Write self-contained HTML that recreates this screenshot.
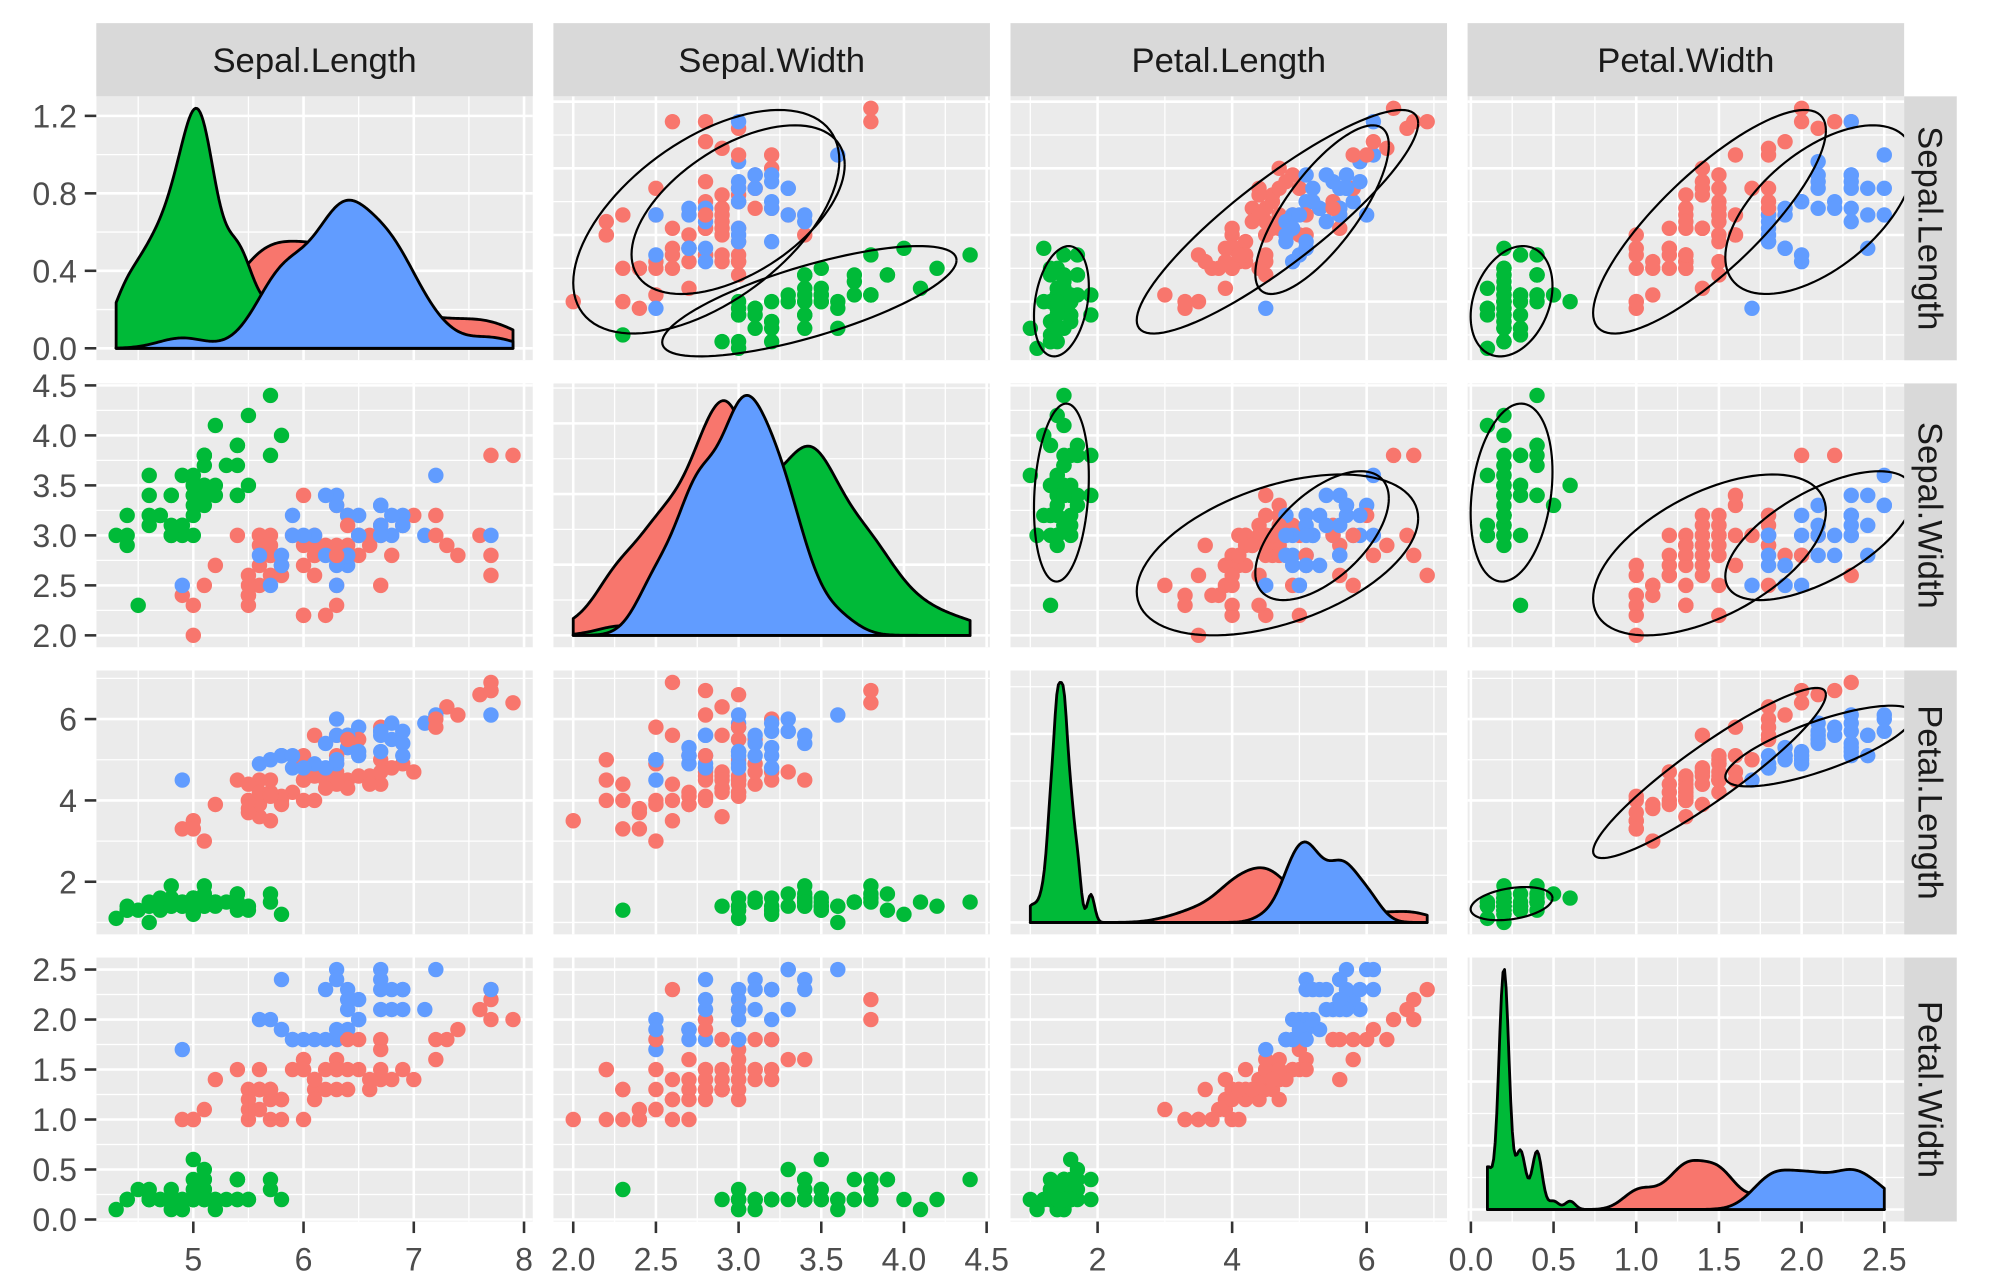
<!DOCTYPE html>
<html><head><meta charset="utf-8"><style>
html,body{margin:0;padding:0;background:#fff;}
svg{display:block;font-family:"Liberation Sans",Arial,sans-serif;}
</style></head><body>
<svg id="chart" width="2003" height="1287" viewBox="0 0 1560 1002" preserveAspectRatio="none" xmlns="http://www.w3.org/2000/svg"></svg>
<script>
const varNames=["Sepal.Length","Sepal.Width","Petal.Length","Petal.Width"];
const sepalLength=[5.1,4.9,4.7,4.6,5.0,5.4,4.6,5.0,4.4,4.9,5.4,4.8,4.8,4.3,5.8,5.7,5.4,5.1,5.7,5.1,5.4,5.1,4.6,5.1,4.8,5.0,5.0,5.2,5.2,4.7,4.8,5.4,5.2,5.5,4.9,5.0,5.5,4.9,4.4,5.1,5.0,4.5,4.4,5.0,5.1,4.8,5.1,4.6,5.3,5.0,
7.0,6.4,6.9,5.5,6.5,5.7,6.3,4.9,6.6,5.2,5.0,5.9,6.0,6.1,5.6,6.7,5.6,5.8,6.2,5.6,5.9,6.1,6.3,6.1,6.4,6.6,6.8,6.7,6.0,5.7,5.5,5.5,5.8,6.0,5.4,6.0,6.7,6.3,5.6,5.5,5.5,6.1,5.8,5.0,5.6,5.7,5.7,6.2,5.1,5.7,
6.3,5.8,7.1,6.3,6.5,7.6,4.9,7.3,6.7,7.2,6.5,6.4,6.8,5.7,5.8,6.4,6.5,7.7,7.7,6.0,6.9,5.6,7.7,6.3,6.7,7.2,6.2,6.1,6.4,7.2,7.4,7.9,6.4,6.3,6.1,7.7,6.3,6.4,6.0,6.9,6.7,6.9,5.8,6.8,6.7,6.7,6.3,6.5,6.2,5.9];
const sepalWidth=[3.5,3.0,3.2,3.1,3.6,3.9,3.4,3.4,2.9,3.1,3.7,3.4,3.0,3.0,4.0,4.4,3.9,3.5,3.8,3.8,3.4,3.7,3.6,3.3,3.4,3.0,3.4,3.5,3.4,3.2,3.1,3.4,4.1,4.2,3.1,3.2,3.5,3.6,3.0,3.4,3.5,2.3,3.2,3.5,3.8,3.0,3.8,3.2,3.7,3.3,
3.2,3.2,3.1,2.3,2.8,2.8,3.3,2.4,2.9,2.7,2.0,3.0,2.2,2.9,2.9,3.1,3.0,2.7,2.2,2.5,3.2,2.8,2.5,2.8,2.9,3.0,2.8,3.0,2.9,2.6,2.4,2.4,2.7,2.7,3.0,3.4,3.1,2.3,3.0,2.5,2.6,3.0,2.6,2.3,2.7,3.0,2.9,2.9,2.5,2.8,
3.3,2.7,3.0,2.9,3.0,3.0,2.5,2.9,2.5,3.6,3.2,2.7,3.0,2.5,2.8,3.2,3.0,3.8,2.6,2.2,3.2,2.8,2.8,2.7,3.3,3.2,2.8,3.0,2.8,3.0,2.8,3.8,2.8,2.8,2.6,3.0,3.4,3.1,3.0,3.1,3.1,3.1,2.7,3.2,3.3,3.0,2.5,3.0,3.4,3.0];
const petalLength=[1.4,1.4,1.3,1.5,1.4,1.7,1.4,1.5,1.4,1.5,1.5,1.6,1.4,1.1,1.2,1.5,1.3,1.4,1.7,1.5,1.7,1.5,1.0,1.7,1.9,1.6,1.6,1.5,1.4,1.6,1.6,1.5,1.5,1.4,1.5,1.2,1.3,1.4,1.3,1.5,1.3,1.3,1.3,1.6,1.9,1.4,1.6,1.4,1.5,1.4,
4.7,4.5,4.9,4.0,4.6,4.5,4.7,3.3,4.6,3.9,3.5,4.2,4.0,4.7,3.6,4.4,4.5,4.1,4.5,3.9,4.8,4.0,4.9,4.7,4.3,4.4,4.8,5.0,4.5,3.5,3.8,3.7,3.9,5.1,4.5,4.5,4.7,4.4,4.1,4.0,4.4,4.6,4.0,3.3,4.2,4.2,4.2,4.3,3.0,4.1,
6.0,5.1,5.9,5.6,5.8,6.6,4.5,6.3,5.8,6.1,5.1,5.3,5.5,5.0,5.1,5.3,5.5,6.7,6.9,5.0,5.7,4.9,6.7,4.9,5.7,6.0,4.8,4.9,5.6,5.8,6.1,6.4,5.6,5.1,5.6,6.1,5.6,5.5,4.8,5.4,5.6,5.1,5.1,5.9,5.7,5.2,5.0,5.2,5.4,5.1];
const petalWidth=[0.2,0.2,0.2,0.2,0.2,0.4,0.3,0.2,0.2,0.1,0.2,0.2,0.1,0.1,0.2,0.4,0.4,0.3,0.3,0.3,0.2,0.4,0.2,0.5,0.2,0.2,0.4,0.2,0.2,0.2,0.2,0.4,0.1,0.2,0.2,0.2,0.2,0.1,0.2,0.2,0.3,0.3,0.2,0.6,0.4,0.3,0.2,0.2,0.2,0.2,
1.4,1.5,1.5,1.3,1.5,1.3,1.6,1.0,1.3,1.4,1.0,1.5,1.0,1.4,1.3,1.4,1.5,1.0,1.5,1.1,1.8,1.3,1.5,1.2,1.3,1.4,1.4,1.7,1.5,1.0,1.1,1.0,1.2,1.6,1.5,1.6,1.5,1.3,1.3,1.3,1.2,1.4,1.2,1.0,1.3,1.2,1.3,1.3,1.1,1.3,
2.5,1.9,2.1,1.8,2.2,2.1,1.7,1.8,1.8,2.5,2.0,1.9,2.1,2.0,2.4,2.3,1.8,2.2,2.3,1.5,2.3,2.0,2.0,1.8,2.1,1.8,1.8,1.8,2.1,1.6,1.9,2.0,2.2,1.5,1.4,2.3,2.4,1.8,1.8,2.1,2.4,2.3,1.9,2.3,2.5,2.3,1.9,2.0,2.3,1.8];
const groupCodes=("g".repeat(50)+"rrrrrrrrrrrrrrrrrrrrb"+"r".repeat(29)+"bbbrbrbrrbbbbbbbrrrrbbrbbrbbbrrrbrrbbrbbbbbbbbbbbb").split("");
const groupLevels=["r","g","b"];
const groupColors={r:"#F8766D",g:"#00BA38",b:"#619CFF"};
const fCrit={r:3.14,g:3.187,b:3.28};
const varTicks=[[5,6,7,8],[2,2.5,3,3.5,4,4.5],[2,4,6],[0,0.5,1,1.5,2,2.5]];
const varTickLabels=[["5","6","7","8"],["2.0","2.5","3.0","3.5","4.0","4.5"],["2","4","6"],["0.0","0.5","1.0","1.5","2.0","2.5"]];
const densTicks=[0,0.4,0.8,1.2];
const densTickLabels=["0.0","0.4","0.8","1.2"];

const data=[sepalLength,sepalWidth,petalLength,petalWidth];
const svg=document.getElementById("chart");
const NS="http://www.w3.org/2000/svg";
function mk(tag,attrs,parent){const e=document.createElementNS(NS,tag);for(const k in attrs)e.setAttribute(k,attrs[k]);(parent||svg).appendChild(e);return e;}

const PX0=75,PSTEP=356,PW_=340,PY0=75,RSTEP=223.5,PH=205.5;
const colX=i=>PX0+PSTEP*i, rowY=i=>PY0+RSTEP*i;
const STRIPX=colX(3)+PW_;
const domains=data.map(v=>{const mn=Math.min(...v),mx=Math.max(...v),e=(mx-mn)*0.05;return [mn-e,mx+e];});
function sx(j,v){const d=domains[j];return colX(j)+(v-d[0])/(d[1]-d[0])*PW_;}
function sy(i,v,dom){const d=dom||domains[i];return rowY(i)+PH-(v-d[0])/(d[1]-d[0])*PH;}

function quant(a,p){const s=[...a].sort((x,y)=>x-y);const h=(s.length-1)*p,lo=Math.floor(h);return s[lo]+(h-lo)*((s[Math.min(lo+1,s.length-1)])-s[lo]);}
function sd(a){const m=a.reduce((s,x)=>s+x,0)/a.length;return Math.sqrt(a.reduce((s,x)=>s+(x-m)*(x-m),0)/(a.length-1));}
function kde(vals,lo,hi){const n=vals.length;const iq=quant(vals,0.75)-quant(vals,0.25);let bw=0.9*Math.min(sd(vals),iq/1.34)*Math.pow(n,-0.2);if(!(bw>0))bw=0.9*sd(vals)*Math.pow(n,-0.2);
 const pts=[];for(let k=0;k<256;k++){const x=lo+(hi-lo)*k/255;let s=0;for(const v of vals){const z=(x-v)/bw;s+=Math.exp(-0.5*z*z);}pts.push([x,s/(n*bw*Math.sqrt(2*Math.PI))]);}return pts;}

const defs=mk("defs",{});
for(let i=0;i<4;i++)for(let j=0;j<4;j++){const c=mk("clipPath",{id:`clip${i}${j}`},defs);mk("rect",{x:colX(j),y:rowY(i),width:PW_,height:PH},c);}

for(let j=0;j<4;j++){
 const g=mk("g",{});
 
 
 mk("rect",{x:colX(j),y:18,width:PW_,height:57,fill:"#D9D9D9"},g);
 const t=mk("text",{x:colX(j)+PW_/2,y:56,"text-anchor":"middle","font-size":27,fill:"#1A1A1A"},g);t.textContent=varNames[j];
}
for(let i=0;i<4;i++){
 const g=mk("g",{});
 
 
 mk("rect",{x:STRIPX,y:rowY(i),width:41,height:PH,fill:"#D9D9D9"},g);
 const cx=STRIPX+11,cy=rowY(i)+PH/2;
 const t=mk("text",{x:cx,y:cy,"text-anchor":"middle","font-size":27,fill:"#1A1A1A",transform:`rotate(90 ${cx} ${cy})`},g);t.textContent=varNames[i];
}

function minors(ticks,dom){const st=ticks.length>1?ticks[1]-ticks[0]:1;const out=[];for(let v=ticks[0]-st/2;v<=dom[1];v+=st){if(v>=dom[0])out.push(v);}return out;}

for(let i=0;i<4;i++)for(let j=0;j<4;j++){
 const panel=mk("g",{"clip-path":`url(#clip${i}${j})`});
 
 
 mk("rect",{x:colX(j),y:rowY(i),width:PW_,height:PH,fill:"#EBEBEB"},panel);
 let ydom=null,yt=varTicks[i];
 let dens=null;
 if(i===j){
  const lo=Math.min(...data[j]),hi=Math.max(...data[j]);
  dens=groupLevels.map(g=>kde(data[j].filter((_,k)=>groupCodes[k]===g),lo,hi));
  const mx=Math.max(...dens.flat().map(p=>p[1]));
  ydom=[-mx*0.05,mx*1.05];
  const stp=[0.1,0.2,0.25,0.4,0.5,1,2].find(s=>mx/s<=4)||1;
  yt=[];for(let v=0;v<=ydom[1];v+=stp)yt.push(+v.toFixed(3));
 }
 const ysc=v=>sy(i,v,ydom);
 for(const v of minors(yt,ydom||domains[i]))mk("line",{x1:colX(j),x2:colX(j)+PW_,y1:ysc(v),y2:ysc(v),stroke:"#fff","stroke-width":1},panel);
 for(const v of minors(varTicks[j],domains[j]))mk("line",{x1:sx(j,v),x2:sx(j,v),y1:rowY(i),y2:rowY(i)+PH,stroke:"#fff","stroke-width":1},panel);
 for(const v of yt)mk("line",{x1:colX(j),x2:colX(j)+PW_,y1:ysc(v),y2:ysc(v),stroke:"#fff","stroke-width":2},panel);
 for(const v of varTicks[j])mk("line",{x1:sx(j,v),x2:sx(j,v),y1:rowY(i),y2:rowY(i)+PH,stroke:"#fff","stroke-width":2},panel);
 if(i===j){
  groupLevels.forEach((g,gi)=>{
   const pts=dens[gi];
   let d=`M${sx(j,pts[0][0])},${ysc(0)}`;
   for(const p of pts)d+=`L${sx(j,p[0]).toFixed(2)},${ysc(p[1]).toFixed(2)}`;
   d+=`L${sx(j,pts[pts.length-1][0])},${ysc(0)}Z`;
   const el=mk("path",{d,fill:groupColors[g],stroke:"#000","stroke-width":2.2,"stroke-linejoin":"round"},panel);
   
   
  });
 } else {
  for(let k=0;k<150;k++){
   const c=mk("circle",{cx:sx(j,data[j][k]),cy:sy(i,data[i][k]),r:6,fill:groupColors[groupCodes[k]]},panel);
   
   
  }
  if(i<j){
   groupLevels.forEach(g=>{
    const xs=data[j].filter((_,k)=>groupCodes[k]===g),ys=data[i].filter((_,k)=>groupCodes[k]===g);
    const n=xs.length,mx=xs.reduce((a,b)=>a+b)/n,my=ys.reduce((a,b)=>a+b)/n;
    let a=0,b=0,c=0;for(let k=0;k<n;k++){a+=(xs[k]-mx)**2;b+=(xs[k]-mx)*(ys[k]-my);c+=(ys[k]-my)**2;}
    a/=n-1;b/=n-1;c/=n-1;
    const l11=Math.sqrt(a),l21=b/l11,l22=Math.sqrt(Math.max(c-l21*l21,1e-12));
    const rad=Math.sqrt(2*fCrit[g])*0.93;
    let d="";
    for(let t=0;t<=100;t++){const th=2*Math.PI*t/100,u=Math.cos(th)*rad,v=Math.sin(th)*rad;
     const X=mx+l11*u,Y=my+l21*u+l22*v;d+=(t?"L":"M")+sx(j,X).toFixed(2)+","+sy(i,Y).toFixed(2);}
    const el=mk("path",{d,fill:"none",stroke:"#000","stroke-width":1.7},panel);
    
    
   });
  }
 }
}

for(let i=0;i<4;i++){
 const g=mk("g",{});
 
 
 let ticks=varTicks[i],labels=varTickLabels[i],dom=null;
 if(i===0){
  const lo=Math.min(...data[0]),hi=Math.max(...data[0]);
  const mx=Math.max(...groupLevels.map(gg=>kde(data[0].filter((_,k)=>groupCodes[k]===gg),lo,hi)).flat().map(p=>p[1]));
  dom=[-mx*0.05,mx*1.05];ticks=densTicks;labels=densTickLabels;
 }
 ticks.forEach((v,k)=>{const y=sy(i,v,dom);
  mk("line",{x1:66,x2:75,y1:y,y2:y,stroke:"#333","stroke-width":2},g);
  const t=mk("text",{x:60,y:y+9,"text-anchor":"end","font-size":25,fill:"#4D4D4D"},g);t.textContent=labels[k];});
}
const axisY=rowY(3)+PH;
for(let j=0;j<4;j++){
 const g=mk("g",{});
 
 
 varTicks[j].forEach((v,k)=>{const x=sx(j,v);
  mk("line",{x1:x,x2:x,y1:axisY,y2:axisY+9,stroke:"#333","stroke-width":2},g);
  const t=mk("text",{x:x,y:axisY+38,"text-anchor":"middle","font-size":25,fill:"#4D4D4D"},g);t.textContent=varTickLabels[j][k];});
}
</script>
</body></html>
